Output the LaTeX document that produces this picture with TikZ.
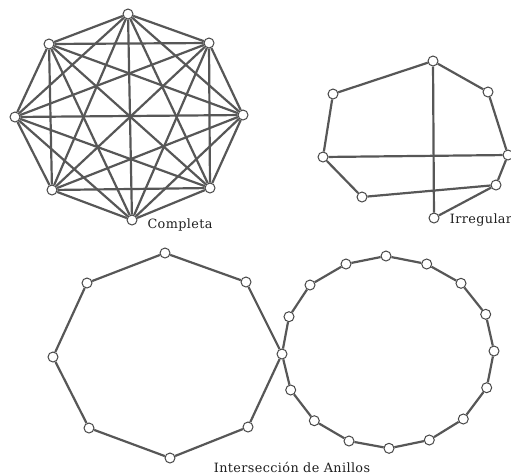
\documentclass[tikz,border=0pt]{standalone}
\usepackage{fontspec}
\setmainfont{DejaVu Serif}
\newfontfamily\lblfont[LetterSpace=3]{DejaVu Serif}
\begin{document}
\begin{tikzpicture}[x=1pt,y=-1pt,
  vtx/.style={circle,draw=black!72,fill=white,line width=1pt,inner sep=0pt,minimum size=10pt},
  edge/.style={draw=black!66,line width=2.2pt},
  lbl/.style={font=\lblfont\fontsize{12.8}{15}\selectfont,text=black!88,inner sep=0pt}]
\useasboundingbox (0,0) rectangle (511,475);
% ---------- Completa ----------
\node[vtx] (c1) at (128,14) {};
\node[vtx] (c2) at (209,43) {};
\node[vtx] (c3) at (243,115) {};
\node[vtx] (c4) at (210,188) {};
\node[vtx] (c5) at (132,220) {};
\node[vtx] (c6) at (52,190) {};
\node[vtx] (c7) at (15,117) {};
\node[vtx] (c8) at (49,44) {};
\foreach \i in {1,...,7}{
  \pgfmathtruncatemacro\k{\i+1}
  \foreach \j in {\k,...,8}{ \draw[edge] (c\i) -- (c\j); }
}
\node[lbl] (tc) at (180,225) {Completa};
% ---------- Irregular ----------
\node[vtx] (i1) at (433,61) {};
\node[vtx] (i2) at (488,92) {};
\node[vtx] (i3) at (508,155) {};
\node[vtx] (i4) at (496,185) {};
\node[vtx] (i5) at (434,218) {};
\node[vtx] (i6) at (362,197) {};
\node[vtx] (i7) at (323,157) {};
\node[vtx] (i8) at (333,94) {};
\draw[edge] (i1) -- (i2) -- (i3) -- (i4) -- (i6) -- (i7) -- (i8) -- (i1);
\draw[edge] (i1) -- (i5);
\draw[edge] (i7) -- (i3);
\draw[edge] (i4) -- (i5);
\node[lbl] (ti) at (481,220) {Irregular};
% ---------- Interseccion de anillos ----------
\node[vtx] (s) at (282,354) {};
\node[vtx] (o1) at (165,253) {};
\node[vtx] (o2) at (246,282) {};
\node[vtx] (o4) at (248,427) {};
\node[vtx] (o5) at (170,458) {};
\node[vtx] (o6) at (89,428) {};
\node[vtx] (o7) at (53,357) {};
\node[vtx] (o8) at (87,283) {};
\draw[edge] (o1) -- (o2) -- (s) -- (o4) -- (o5) -- (o6) -- (o7) -- (o8) -- (o1);
\node[vtx] (r1) at (386,256) {};
\node[vtx] (r2) at (426.7,264) {};
\node[vtx] (r3) at (461,283.3) {};
\node[vtx] (r4) at (485.7,314.3) {};
\node[vtx] (r5) at (494,351) {};
\node[vtx] (r6) at (486.7,387.7) {};
\node[vtx] (r7) at (463.3,419) {};
\node[vtx] (r8) at (429.3,440) {};
\node[vtx] (r9) at (389,448.3) {};
\node[vtx] (r10) at (349,441) {};
\node[vtx] (r11) at (314.3,420.7) {};
\node[vtx] (r12) at (290.7,390) {};
\node[vtx] (r14) at (289,316.7) {};
\node[vtx] (r15) at (310,285) {};
\node[vtx] (r16) at (346,264) {};
\draw[edge] (r1) -- (r2) -- (r3) -- (r4) -- (r5) -- (r6) -- (r7) -- (r8) -- (r9) -- (r10) -- (r11) -- (r12) -- (s) -- (r14) -- (r15) -- (r16) -- (r1);
\node[lbl] (ta) at (292,467) {Intersección de Anillos};
\end{tikzpicture}
\end{document}
